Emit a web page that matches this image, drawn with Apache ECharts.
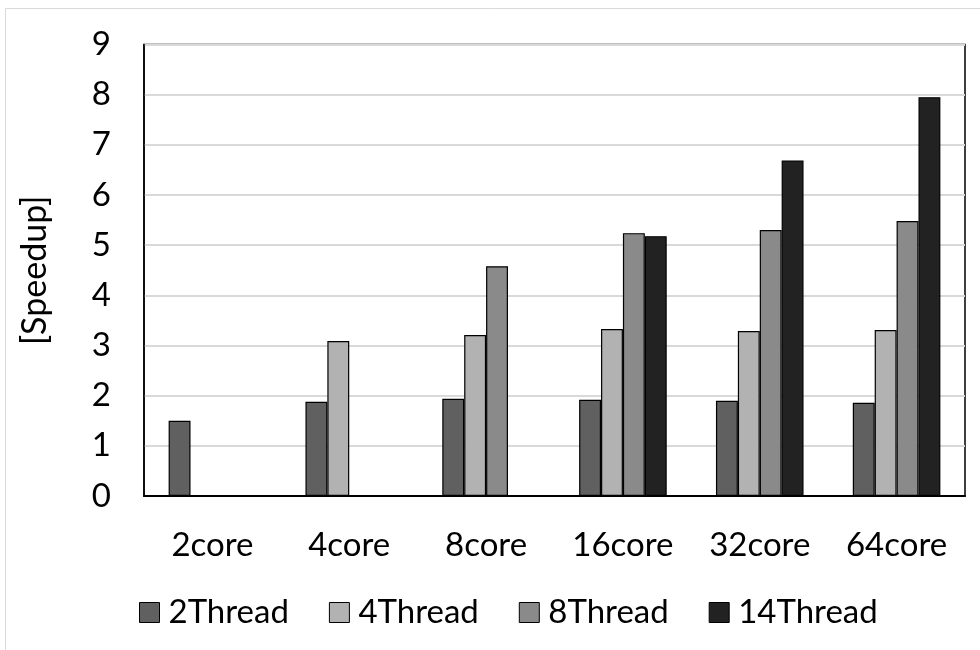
<!DOCTYPE html>
<html><head><meta charset="utf-8">
<script src="https://cdn.jsdelivr.net/npm/echarts@6/dist/echarts.min.js"></script>
<style>html,body{margin:0;padding:0;background:#fff}#c{width:980px;height:650px}</style>
</head><body><div id="c"></div>
<script>
const categories = ['2core','4core','8core','16core','32core','64core'];
const seriesNames = ['2Thread','4Thread','8Thread','14Thread'];
const thread2 = [1.50, 1.88, 1.94, 1.92, 1.90, 1.86];
const thread4 = [null, 3.09, 3.21, 3.33, 3.29, 3.31];
const thread8 = [null, null, 4.58, 5.24, 5.30, 5.48];
const thread14 = [null, null, null, 5.18, 6.69, 7.95];
const yTicks = [0,1,2,3,4,5,6,7,8,9];

const colors = ['#606060','#b2b2b2','#8a8a8a','#222222'];
const values = [thread2, thread4, thread8, thread14];
const font = 'Lato, Carlito, Calibri, sans-serif';

const chart = echarts.init(document.getElementById('c'));
chart.setOption({
  animation: false,
  backgroundColor: '#fff',
  graphic: [{type:'rect', shape:{x:5.5,y:8.5,width:1000,height:700}, style:{fill:'none', stroke:'#d9d9d9', lineWidth:1}, silent:true}],
  grid: {left:144, right:15, top:44.5, bottom:154, show:true, borderColor:'#000', borderWidth:1.5, backgroundColor:'transparent'},
  legend: {
    data: seriesNames, top: 591, left: 134, itemWidth: 20, itemHeight: 20, itemGap: 40,
    icon: 'rect',
    textStyle: {fontFamily: font, fontSize: 33, color:'#000', padding:[0,0,0,4]},
    itemStyle: {borderColor:'#000', borderWidth:1}
  },
  xAxis: {
    type:'category', data: categories,
    axisLine:{show:true, lineStyle:{color:'#000', width:2}},
    axisTick:{show:false},
    axisLabel:{fontFamily:font, fontSize:33, color:'#000', margin:33}
  },
  yAxis: {
    type:'value', min:0, max:9, interval:1,
    name:'[Speedup]', nameLocation:'middle', nameGap:92,
    nameTextStyle:{fontFamily:font, fontSize:34, color:'#000'},
    axisLine:{show:true, lineStyle:{color:'#000', width:1.5}},
    axisTick:{show:false},
    axisLabel:{fontFamily:font, fontSize:33, color:'#000', margin:33,
      formatter: v => yTicks.includes(v) ? String(v) : ''},
    splitLine:{lineStyle:{color:'#d9d9d9', width:2}}
  },
  series: seriesNames.map((n,i)=>({
    name:n, type:'bar', data: values[i], barGap:'0%', barCategoryGap:'36%',
    itemStyle:{color:colors[i], borderColor:'#000', borderWidth:1.2}
  }))
});
</script></body></html>
